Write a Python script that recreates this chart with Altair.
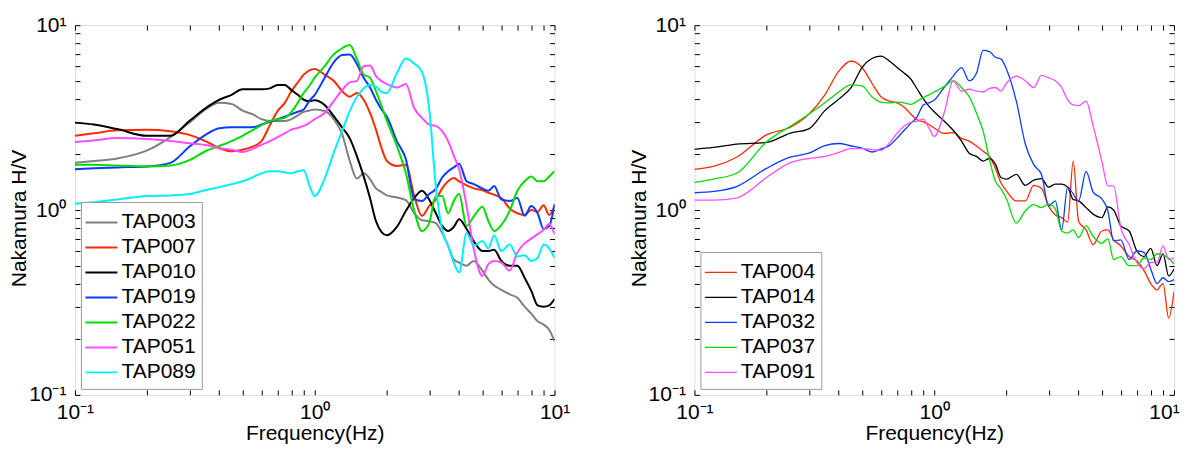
import altair as alt
import pandas as pd

FREQ = [0.10, 0.12, 0.15, 0.20, 0.25, 0.30, 0.35, 0.40, 0.45, 0.50, 0.55, 0.60, 0.65,
        0.70, 0.75, 0.80, 0.85, 0.90, 0.95,
        1.0, 1.1, 1.2, 1.3, 1.4, 1.5, 1.6, 1.7, 1.8, 1.9, 2.0,
        2.2, 2.4, 2.6, 2.8, 3.0, 3.2, 3.4, 3.6, 3.8, 4.0,
        4.3, 4.6, 5.0, 5.3, 5.6, 6.0, 6.5, 7.0, 7.5, 8.0, 8.5, 9.0, 9.5, 10.0]

# ---- left panel ----
LEFT_NAMES = ["TAP003", "TAP007", "TAP010", "TAP019", "TAP022", "TAP051", "TAP089"]
LEFT_COLORS = ["#808080", "#ff2a00", "#000000", "#0a3cff", "#00dd00", "#ff4cff", "#00f0ff"]

TAP003 = [1.80, 1.84, 1.90, 2.10, 2.48, 2.97, 3.5, 3.8, 3.75, 3.45, 3.3, 3.1, 3.03, 3.03, 3.03, 3.1, 3.25, 3.4, 3.45,
          3.5, 3.43, 3.1, 2.58, 1.84, 1.48, 1.58, 1.47, 1.31, 1.25, 1.20,
          1.17, 1.13, 0.96, 0.88, 0.87, 0.85, 0.75, 0.64, 0.54, 0.52,
          0.50, 0.53, 0.47, 0.42, 0.39, 0.37, 0.35, 0.335, 0.30, 0.275, 0.25, 0.24, 0.225, 0.195]
TAP007 = [2.52, 2.60, 2.70, 2.72, 2.67, 2.55, 2.36, 2.16, 2.08, 2.12, 2.20, 2.36, 2.88, 3.43, 3.8, 4.4, 4.9, 5.4, 5.7,
          5.8, 5.4, 5.0, 4.4, 4.1, 4.3, 3.95, 3.35, 2.72, 2.16, 1.84,
          1.73, 1.76, 1.19, 0.93, 1.05, 1.14, 1.31, 1.43, 1.49, 1.43,
          1.36, 1.31, 1.28, 1.24, 1.21, 1.16, 1.02, 0.96, 0.94, 1.0, 0.98, 1.06, 0.94, 1.05]
TAP010 = [2.97, 2.9, 2.74, 2.52, 2.52, 3.03, 3.55, 3.95, 4.2, 4.5, 4.5, 4.5, 4.55, 4.75, 4.75, 4.45, 4.2, 3.95, 3.88,
          3.93, 3.7, 3.22, 2.8, 2.44, 1.95, 1.52, 1.16, 0.87, 0.76, 0.73,
          0.81, 0.99, 1.16, 1.27, 1.14, 0.96, 0.82, 0.77, 0.81, 0.89,
          0.79, 0.68, 0.60, 0.60, 0.61, 0.53, 0.50, 0.50, 0.43, 0.365, 0.305, 0.30, 0.305, 0.33]
TAP019 = [1.66, 1.68, 1.70, 1.72, 1.8, 2.2, 2.55, 2.77, 2.8, 2.8, 2.8, 2.9, 3.0, 3.1, 3.2, 3.3, 3.4, 3.5, 3.9,
          4.2, 5.2, 6.3, 6.9, 6.95, 6.15, 5.2, 4.6, 3.95, 3.5, 3.2,
          2.36, 1.88, 1.15, 1.12, 1.22, 1.30, 1.5, 1.62, 1.70, 1.78,
          1.43, 1.38, 1.31, 1.27, 1.35, 1.14, 1.12, 1.16, 0.93, 1.05, 0.96, 0.79, 0.82, 1.08]
TAP022 = [1.76, 1.76, 1.74, 1.72, 1.74, 1.86, 2.08, 2.22, 2.36, 2.52, 2.70, 2.88, 3.03, 3.1, 3.15, 3.4, 3.8, 4.3, 4.7,
          5.2, 6.0, 6.95, 7.5, 7.8, 6.55, 5.4, 5.2, 4.4, 3.65, 3.03,
          2.22, 1.58, 0.99, 0.77, 0.85, 1.19, 1.19, 0.96, 1.12, 1.22,
          0.82, 0.92, 1.04, 0.87, 0.77, 0.83, 0.99, 1.27, 1.43, 1.52, 1.43, 1.43, 1.52, 1.62]
TAP051 = [2.33, 2.38, 2.45, 2.42, 2.36, 2.30, 2.25, 2.16, 2.12, 2.06, 2.14, 2.25, 2.36, 2.48, 2.6, 2.72, 2.78, 2.85, 2.96,
          3.1, 3.35, 3.88, 4.45, 4.9, 5.0, 6.0, 6.05, 5.3, 4.98, 4.8,
          4.6, 4.8, 3.55, 3.15, 2.9, 2.85, 2.67, 2.36, 1.97, 1.66,
          1.05, 0.62, 0.44, 0.51, 0.53, 0.52, 0.47, 0.59, 0.66, 0.70, 0.74, 0.78, 0.84, 0.74]
TAP089 = [1.08, 1.10, 1.14, 1.19, 1.20, 1.22, 1.28, 1.33, 1.38, 1.43, 1.50, 1.58, 1.62, 1.62, 1.60, 1.58, 1.62, 1.64, 1.36,
          1.19, 1.48, 2.04, 2.67, 3.43, 4.1, 4.55, 4.75, 4.65, 4.35, 4.3,
          5.5, 6.6, 6.2, 5.6, 3.55, 1.34, 0.78, 0.64, 0.52, 0.46,
          0.75, 0.64, 0.68, 0.62, 0.73, 0.60, 0.65, 0.56, 0.57, 0.53, 0.55, 0.65, 0.62, 0.55]
LEFT_SERIES = [TAP003, TAP007, TAP010, TAP019, TAP022, TAP051, TAP089]

# ---- right panel ----
RIGHT_NAMES = ["TAP004", "TAP014", "TAP032", "TAP037", "TAP091"]
RIGHT_COLORS = ["#ff2a00", "#000000", "#0a3cff", "#00dd00", "#ff4cff"]

TAP004 = [1.66, 1.72, 1.93, 2.55, 2.8, 3.3, 4.2, 5.64, 6.4, 5.9, 4.85, 4.1, 3.88, 3.8, 3.6, 3.3, 3.07, 3.0, 2.9,
          2.78, 2.6, 2.62, 2.44, 2.36, 2.22, 2.08, 1.95, 1.68, 1.4, 1.27,
          1.12, 1.12, 1.36, 1.31, 1.05, 0.94, 0.91, 0.86, 1.84, 0.87,
          0.78, 0.65, 0.77, 0.78, 0.69, 0.64, 0.56, 0.53, 0.47, 0.40, 0.37, 0.40, 0.26, 0.36]
TAP014 = [2.13, 2.18, 2.27, 2.32, 2.6, 2.75, 3.45, 3.98, 4.6, 5.9, 6.6, 6.8, 6.4, 5.9, 5.5, 5.1, 4.5, 4.0, 3.65,
          3.4, 3.03, 2.7, 2.36, 2.03, 1.95, 1.84, 1.9, 1.77, 1.5, 1.47,
          1.56, 1.36, 1.45, 1.48, 1.33, 1.38, 1.38, 1.33, 1.14, 1.12,
          1.03, 0.95, 0.91, 1.04, 1.0, 0.82, 0.77, 0.60, 0.56, 0.62, 0.5, 0.58, 0.44, 0.48]
TAP032 = [1.24, 1.26, 1.34, 1.68, 1.93, 2.03, 2.23, 2.29, 2.22, 2.16, 2.06, 2.14, 2.23, 2.45, 2.7, 2.95, 3.2, 3.7, 3.8,
          3.93, 4.6, 5.3, 5.9, 5.0, 5.5, 7.3, 7.2, 6.7, 6.55, 5.8,
          3.88, 2.27, 1.76, 1.56, 1.05, 1.12, 0.78, 1.33, 1.22, 1.12,
          1.62, 1.25, 1.15, 0.99, 0.68, 0.69, 0.54, 0.6, 0.59, 0.48, 0.4, 0.43, 0.41, 0.42]
TAP037 = [1.41, 1.47, 1.58, 2.34, 2.83, 3.3, 3.8, 4.35, 4.75, 4.7, 4.1, 3.83, 3.8, 3.83, 3.8, 3.73, 3.88, 4.05, 4.2,
          4.35, 4.65, 5.0, 4.6, 4.1, 3.35, 2.67, 1.88, 1.43, 1.3, 1.15,
          0.85, 0.99, 1.07, 1.03, 1.08, 1.01, 0.77, 0.75, 0.78, 0.71,
          0.82, 0.72, 0.66, 0.7, 0.54, 0.56, 0.5, 0.5, 0.55, 0.54, 0.58, 0.57, 0.55, 0.51]
TAP091 = [1.13, 1.13, 1.16, 1.5, 1.8, 1.9, 1.95, 2.05, 2.15, 2.15, 2.12, 2.1, 2.3, 2.6, 2.85, 2.98, 3.03, 3.1, 2.78,
          2.5, 3.35, 5.0, 4.4, 4.5, 4.4, 4.35, 4.55, 4.6, 4.4, 4.85,
          5.3, 5.0, 4.6, 5.35, 5.2, 5.0, 4.6, 3.95, 3.7, 3.67,
          3.88, 2.85, 1.84, 1.35, 1.35, 0.8, 0.65, 0.52, 0.48, 0.52, 0.52, 0.64, 0.54, 0.55]
RIGHT_SERIES = [TAP004, TAP014, TAP032, TAP037, TAP091]

MAJOR = [0.1, 1, 10]
ALL_TICKS = [0.1, 0.2, 0.3, 0.4, 0.5, 0.6, 0.7, 0.8, 0.9,
             1, 2, 3, 4, 5, 6, 7, 8, 9, 10]
LABEL_EXPR = "datum.value < 0.5 ? '10\u207b\u00b9' : (datum.value < 5 ? '10\u2070' : '10\u00b9')"
FONT = "Liberation Sans"


def tick_axis(orient):
    return alt.Axis(orient=orient, values=ALL_TICKS, labels=False, domain=False,
                    ticks=True, tickSize=5, tickColor="black", tickWidth=1,
                    offset=-5, grid=False, title=None)


def panel(names, series, colors, stroke, last_shift):
    rows = []
    for n, vals in zip(names, series):
        for f, v in zip(FREQ, vals):
            rows.append({"f": f, "hv": v, "station": n})
    df = pd.DataFrame(rows)
    xs = alt.Scale(type="log", domain=[0.1, 10], nice=False)
    ys = alt.Scale(type="log", domain=[0.1, 10], nice=False)
    base = alt.Chart(df)
    lines = base.mark_line(strokeWidth=stroke, interpolate="monotone", clip=True).encode(
        x=alt.X("f:Q", scale=xs,
                axis=alt.Axis(orient="bottom", values=MAJOR, labelExpr=LABEL_EXPR,
                              ticks=False, domain=False, grid=False,
                              labelFontSize=21, labelPadding=7, labelFlush=False,
                              labelOffset={"condition": {"test": "datum.value > 5",
                                                         "value": last_shift},
                                           "value": 0},
                              title="Frequency(Hz)", titleFontSize=21,
                              titleFontWeight="normal", titlePadding=0)),
        y=alt.Y("hv:Q", scale=ys,
                axis=alt.Axis(orient="left", values=MAJOR, labelExpr=LABEL_EXPR,
                              ticks=False, domain=False, grid=False,
                              labelFontSize=21, labelPadding=9,
                              title="Nakamura H/V", titleFontSize=21,
                              titleFontWeight="normal", titleX=-55, titleY=193,
                              titleBaseline="middle")),
        color=alt.Color("station:N",
                        scale=alt.Scale(domain=names, range=colors),
                        legend=alt.Legend(title=None, orient="bottom-left", offset=6,
                                          symbolType="M-1.185,0H1.185", symbolSize=729,
                                          symbolStrokeWidth=stroke,
                                          labelFontSize=21, labelFont=FONT,
                                          labelColor="black", rowPadding=0,
                                          padding=6, strokeColor="#9a9a9a",
                                          fillColor="white", cornerRadius=0,
                                          labelOffset=5.5)),
    )
    tick_bl = base.mark_line(strokeOpacity=0).encode(
        x=alt.X("f:Q", scale=xs, axis=tick_axis("bottom")),
        y=alt.Y("hv:Q", scale=ys, axis=tick_axis("left")),
        detail="station:N",
    )
    tick_tr = base.mark_line(strokeOpacity=0).encode(
        x=alt.X("f:Q", scale=xs, axis=tick_axis("top")),
        y=alt.Y("hv:Q", scale=ys, axis=tick_axis("right")),
        detail="station:N",
    )
    return alt.layer(lines, tick_bl, tick_tr).resolve_axis(
        x="independent", y="independent").properties(width=480, height=370)


left = panel(LEFT_NAMES, LEFT_SERIES, LEFT_COLORS, 2, 0)
right = panel(RIGHT_NAMES, RIGHT_SERIES, RIGHT_COLORS, 1.3, -10)

chart = alt.hconcat(left, right, spacing=140, bounds="flush").resolve_scale(
    color="independent").resolve_legend(color="independent").properties(
    padding={"left": 0, "top": 5, "right": 0, "bottom": 0}
).configure_view(stroke="black", strokeWidth=1).configure_axis(
    labelFont=FONT, titleFont=FONT, labelColor="black", titleColor="black"
).configure(background="white")

chart.save("out.html", embed_options={"renderer": "svg", "actions": False})
